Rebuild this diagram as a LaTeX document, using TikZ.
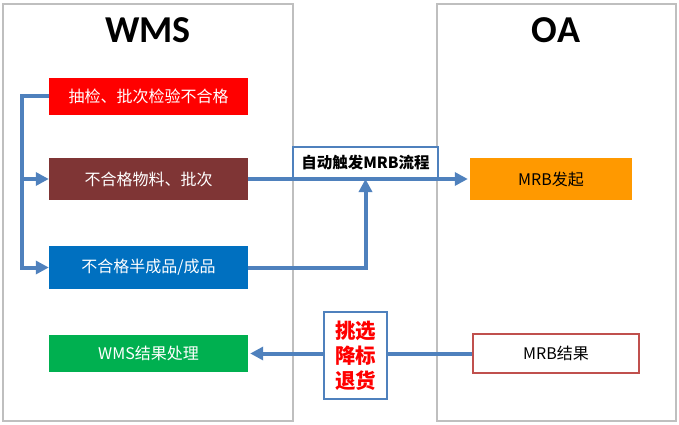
\documentclass[tikz,border=0pt]{standalone}
\usepackage{fontspec}
\setmainfont{Carlito}
\newfontfamily\cjk{Noto Sans CJK SC}
\usetikzlibrary{arrows.meta}
\definecolor{lineblue}{HTML}{4F81BD}
\definecolor{colgray}{HTML}{BFBFBF}
\definecolor{cred}{HTML}{FF0000}
\definecolor{cbrown}{HTML}{7F3535}
\definecolor{cblue}{HTML}{0070C0}
\definecolor{cgreen}{HTML}{00B050}
\definecolor{corange}{HTML}{FF9900}
\definecolor{cres}{HTML}{C0504D}
\begin{document}
\begin{tikzpicture}[x=1pt,y=-1pt,
  col/.style={draw=colgray, line width=2.2pt, inner sep=0pt},
  title/.style={font=\bfseries\fontsize{38}{44}\selectfont},
  fillbox/.style={inner sep=0pt, minimum width=199pt, text=white, font=\cjk\fontsize{16}{19}\selectfont},
  conn/.style={draw=lineblue, line width=4pt},
  tip/.style={-{Triangle[length=13pt,width=13pt]}},
  lab/.style={draw=lineblue, line width=2pt, fill=white, inner sep=0pt}
]
\useasboundingbox (0,0) rectangle (679,425);
\node[col, minimum width=290pt, minimum height=417pt] (wmscol) at (148,212.5) {};
\node[col, minimum width=239pt, minimum height=417pt] (oacol) at (556.5,212.5) {};
\node[title] (wmst) at (148,30) {WMS};
\node[title] (oat) at (556,30) {OA};

\node[fillbox, fill=cred, minimum height=37pt] (red) at (148.5,96.5) {抽检、批次检验不合格};
\node[fillbox, fill=cbrown, minimum height=42pt] (brown) at (148.5,179) {不合格物料、批次};
\node[fillbox, fill=cblue, minimum height=43pt] (blue) at (148.5,267.5) {不合格半成品/成品};
\node[fillbox, fill=cgreen, minimum height=37pt] (green) at (148.5,353.5) {WMS结果处理};
\node[fillbox, fill=corange, text=black, minimum width=162pt, minimum height=42pt] (orange) at (551,179) {MRB发起};
\node[draw=cres, line width=2pt, fill=white, inner sep=0pt, minimum width=166pt, minimum height=39pt, font=\cjk\fontsize{16}{19}\selectfont] (mrbres) at (556,353.5) {MRB结果};

\node[lab, minimum width=145pt, minimum height=31pt, font=\cjk\bfseries\fontsize{15.5}{18}\selectfont] (lab1) at (365.5,162.5) {自动触发MRB流程};
\node[lab, minimum width=63pt, minimum height=87pt, text=cred, align=center, font=\cjk\bfseries\fontsize{20.5}{25}\selectfont] (lab2) at (355.5,355.5) {挑选\\降标\\退货};

\coordinate (bx) at (22,0);
\draw[conn, tip] (red.west) -- (red.west -| bx) |- (blue.west);
\draw[conn, tip] (bx |- brown.west) -- (brown.west);
\draw[conn, tip] (brown.east) -- ([xshift=-2pt]orange.west);
\draw[conn, tip] (blue.east) -| (lab1.south);
\draw[conn] (mrbres.west) -- (mrbres.west -| lab2.east);
\draw[conn, tip] (green.east -| lab2.west) -- ([xshift=2pt]green.east);
\end{tikzpicture}
\end{document}
